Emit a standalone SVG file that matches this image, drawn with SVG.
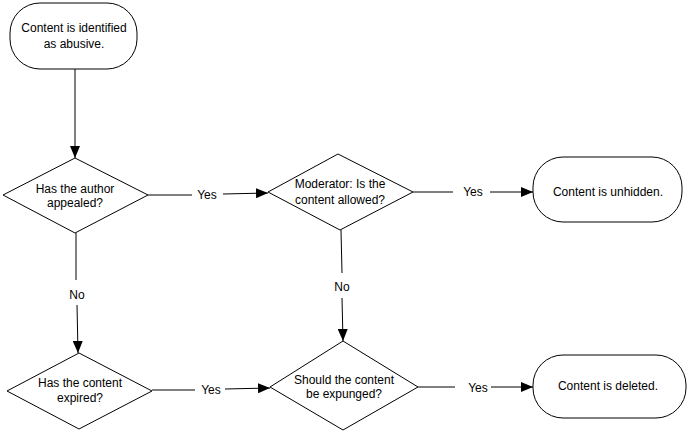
<svg xmlns="http://www.w3.org/2000/svg" width="688" height="434" viewBox="0 0 688 434">
<style>
.shape{fill:#fff;stroke:#000;stroke-width:1}
.t{font-family:"Liberation Sans",Arial,sans-serif;font-size:12px;fill:#000;text-anchor:middle;dominant-baseline:central}
.c{fill:none;stroke:#000;stroke-width:1}
</style>
<defs>
<marker id="ah" markerWidth="12" markerHeight="10" refX="12" refY="5" orient="auto" markerUnits="userSpaceOnUse">
<path d="M0,0 L12,5 L0,10 Z" fill="#000"/>
</marker>
</defs>
<rect width="688" height="434" fill="#fff"/>
<g id="connectors">
<path class="c" d="M75,69 L75,158" marker-end="url(#ah)"/>
<path class="c" d="M148,195 L192,195 M223,194 L268,193" marker-end="url(#ah)"/>
<text class="t" x="207" y="195">Yes</text>
<path class="c" d="M413,192 L453,192 M490,192 L533,192" marker-end="url(#ah)"/>
<text class="t" x="473" y="192">Yes</text>
<path class="c" d="M76,233 L76,280 M77,305 L78,353" marker-end="url(#ah)"/>
<text class="t" x="77" y="295">No</text>
<path class="c" d="M341,230 L342,273 M342,298 L343,341" marker-end="url(#ah)"/>
<text class="t" x="342" y="287">No</text>
<path class="c" d="M152,390 L195,390 M225,389 L270,388" marker-end="url(#ah)"/>
<text class="t" x="211" y="390">Yes</text>
<path class="c" d="M418,387 L455,387 M491,387 L533,387" marker-end="url(#ah)"/>
<text class="t" x="478" y="388">Yes</text>
</g>
<g id="start">
<rect class="shape" x="10" y="3" width="127" height="66" rx="30" ry="30"/>
<text class="t" x="74" y="28">Content is identified</text>
<text class="t" x="74" y="44">as abusive.</text>
</g>
<g id="appealed">
<polygon class="shape" points="75,158 148,195 75,233 3,195"/>
<text class="t" x="75" y="189">Has the author</text>
<text class="t" x="75" y="203">appealed?</text>
</g>
<g id="moderator">
<polygon class="shape" points="338,154 413,192 340,230 268,192"/>
<text class="t" x="340" y="184">Moderator: Is the</text>
<text class="t" x="340" y="200">content allowed?</text>
</g>
<g id="unhidden">
<rect class="shape" x="533" y="157" width="149" height="65" rx="30" ry="30"/>
<text class="t" x="608" y="192">Content is unhidden.</text>
</g>
<g id="expired">
<polygon class="shape" points="79,353 152,391 79,429 7,391"/>
<text class="t" x="80" y="383">Has the content</text>
<text class="t" x="80" y="398">expired?</text>
</g>
<g id="expunged">
<polygon class="shape" points="343,341 418,387 343,430 270,387"/>
<text class="t" x="344" y="380">Should the content</text>
<text class="t" x="344" y="394">be expunged?</text>
</g>
<g id="deleted">
<rect class="shape" x="533" y="355" width="153" height="63" rx="30" ry="30"/>
<text class="t" x="608" y="386">Content is deleted.</text>
</g>
</svg>
